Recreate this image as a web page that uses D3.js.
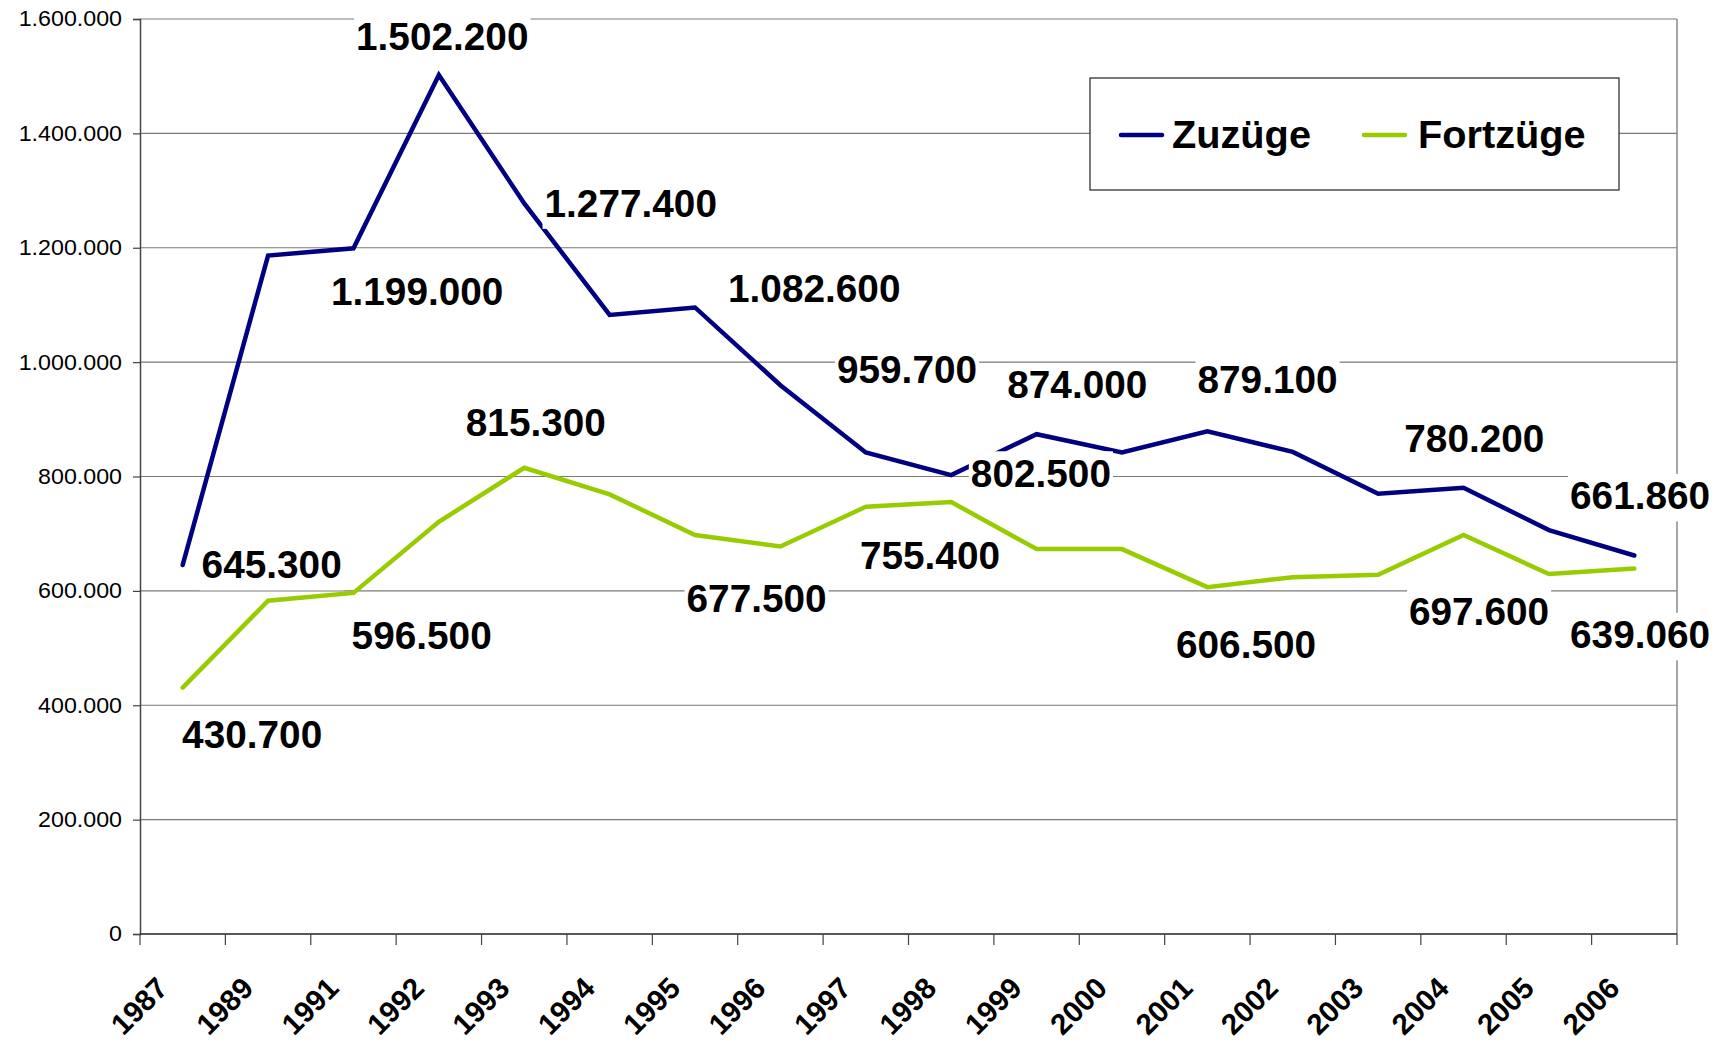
<!DOCTYPE html>
<html>
<head>
<meta charset="utf-8">
<script src="https://cdn.jsdelivr.net/npm/d3@7"></script>
<style>
  html, body { margin: 0; padding: 0; background: #fff; }
  svg { display: block; font-family: "Liberation Sans", Arial, sans-serif; }
</style>
</head>
<body>
<svg id="chart" width="1722" height="1042"></svg>
<script>
// ---- data ----
const years = ["1987","1989","1991","1992","1993","1994","1995","1996","1997","1998","1999","2000","2001","2002","2003","2004","2005","2006"];
const zuzuege = [645300, 1186400, 1199000, 1502200, 1277400, 1082600, 1095600, 959700, 842100, 802500, 874000, 842000, 879100, 843000, 770000, 780200, 706300, 661860];
const fortzuege = [430700, 582700, 596500, 720800, 815300, 768700, 697600, 677500, 747000, 755400, 673100, 673100, 606500, 624000, 628000, 697600, 629400, 639060];
const yTicks = [0, 200000, 400000, 600000, 800000, 1000000, 1200000, 1400000, 1600000];
const seriesNames = ["Zuzüge", "Fortzüge"];

// which points carry a value label (indices into the series)
const zuzuegeLabelIdx = [0, 2, 3, 4, 5, 7, 9, 10, 12, 15, 17];
const fortzuegeLabelIdx = [0, 2, 4, 7, 9, 12, 15, 17];

// ---- styling / placement (not data) ----
const colors = ["#000080", "#99CC00"];
const zuzuegeLabelOffsets = [[89,13.4],[63.7,56.8],[3.4,-25.4],[106.5,13.4],[204.6,-13.1],[126.6,-1.7],[89.7,11.7],[40.7,-35.7],[60.2,-38],[10.8,-36],[5.8,-46.1]];
const fortzuegeLabelOffsets = [[69.5,60.7],[68.2,56.5],[11.6,-31.6],[-23.8,65],[-21.2,67.4],[38.7,70.6],[15.5,90],[5.8,79.8]];

const svg = d3.select("#chart");
const pLeft = 140, pRight = 1677, pTop = 19, pBottom = 934;

const x = d3.scaleBand().domain(years).range([pLeft, pRight]).padding(0);
const y = d3.scaleLinear().domain([0, 1600000]).range([pBottom, pTop]);
const bw = x.bandwidth();
const cx = d => x(d) + bw / 2;

const deFmt = d3.formatLocale({decimal: ",", thousands: ".", grouping: [3], currency: ["", "€"]}).format(",");

function stretch(sel, k) {
  sel.each(function() {
    const w = this.getComputedTextLength();
    d3.select(this).attr("textLength", w * k).attr("lengthAdjust", "spacingAndGlyphs");
  });
}

// gridlines
svg.append("g").selectAll("line").data(yTicks.filter(d => d > 0)).join("line")
  .attr("x1", pLeft).attr("x2", pRight)
  .attr("y1", d => y(d)).attr("y2", d => y(d))
  .attr("stroke", "#7a7a7a").attr("stroke-width", 1.2);

// right border
svg.append("line").attr("x1", pRight).attr("x2", pRight).attr("y1", y(1600000)).attr("y2", y(0))
  .attr("stroke", "#8a8a8a").attr("stroke-width", 1.5);

// y axis
const yAxis = svg.append("g").attr("transform", `translate(${pLeft},0)`)
  .call(d3.axisLeft(y).tickValues(yTicks).tickSize(7).tickPadding(11).tickFormat(deFmt));
yAxis.select(".domain").attr("stroke", "#444").attr("stroke-width", 1.5);
yAxis.selectAll(".tick line").attr("stroke", "#444").attr("stroke-width", 1.2);
yAxis.selectAll(".tick text").attr("font-size", 21.5).attr("fill", "#000")
  .attr("font-family", "'Liberation Sans', Arial, sans-serif");
stretch(yAxis.selectAll(".tick text"), 1.08);

// x axis: baseline + boundary ticks
svg.append("line").attr("x1", pLeft).attr("x2", pRight).attr("y1", pBottom).attr("y2", pBottom)
  .attr("stroke", "#222").attr("stroke-width", 1.5);
const bounds = years.map(d => x(d)).concat([x.range()[1]]);
svg.append("g").selectAll("line").data(bounds).join("line")
  .attr("x1", d => d).attr("x2", d => d).attr("y1", pBottom).attr("y2", pBottom + 11)
  .attr("stroke", "#444").attr("stroke-width", 1.2);
svg.append("g").selectAll("text").data(years).join("text")
  .attr("transform", d => `translate(${cx(d) - 13},${pBottom + 56}) rotate(-45)`)
  .attr("text-anchor", "end")
  .attr("font-size", 29.5).attr("font-weight", "bold").attr("fill", "#000")
  .text(d => d);

// lines
const line = d3.line().x((d, i) => cx(years[i])).y(d => y(d));
[zuzuege, fortzuege].forEach((s, k) => {
  svg.append("path").datum(s).attr("d", line)
    .attr("fill", "none").attr("stroke", colors[k]).attr("stroke-width", 4.5)
    .attr("stroke-linejoin", "miter").attr("stroke-linecap", "round");
});

// value labels with white boxes
function addLabels(series, idxs, offs) {
  idxs.forEach((i, j) => {
    const g = svg.append("g");
    const px = cx(years[i]) + offs[j][0];
    const py = y(series[i]) + offs[j][1];
    const t = g.append("text").attr("x", px).attr("y", py)
      .attr("text-anchor", "middle").attr("font-size", 38).attr("font-weight", "bold")
      .attr("fill", "#000").text(deFmt(series[i]));
    stretch(t, 1.02);
    const bb = t.node().getBBox();
    g.insert("rect", "text").attr("x", bb.x - 2).attr("y", py - 35.5)
      .attr("width", bb.width + 4).attr("height", 47.5).attr("fill", "#fff");
  });
}
addLabels(zuzuege, zuzuegeLabelIdx, zuzuegeLabelOffsets);
addLabels(fortzuege, fortzuegeLabelIdx, fortzuegeLabelOffsets);

// legend
const lg = svg.append("g");
lg.append("rect").attr("x", 1090).attr("y", 78).attr("width", 529).attr("height", 112)
  .attr("fill", "#fff").attr("stroke", "#222").attr("stroke-width", 1.2);
const legX = [[1121, 1172], [1364, 1418]];
seriesNames.forEach((n, k) => {
  lg.append("line").attr("x1", legX[k][0]).attr("x2", legX[k][0] + 41).attr("y1", 135).attr("y2", 135)
    .attr("stroke", colors[k]).attr("stroke-width", 4.5).attr("stroke-linecap", "round");
  const lt = lg.append("text").attr("x", legX[k][1]).attr("y", 148).attr("font-size", 38).attr("font-weight", "bold")
    .attr("fill", "#000").text(n);
  stretch(lt, 1.045);
});
</script>
</body>
</html>
